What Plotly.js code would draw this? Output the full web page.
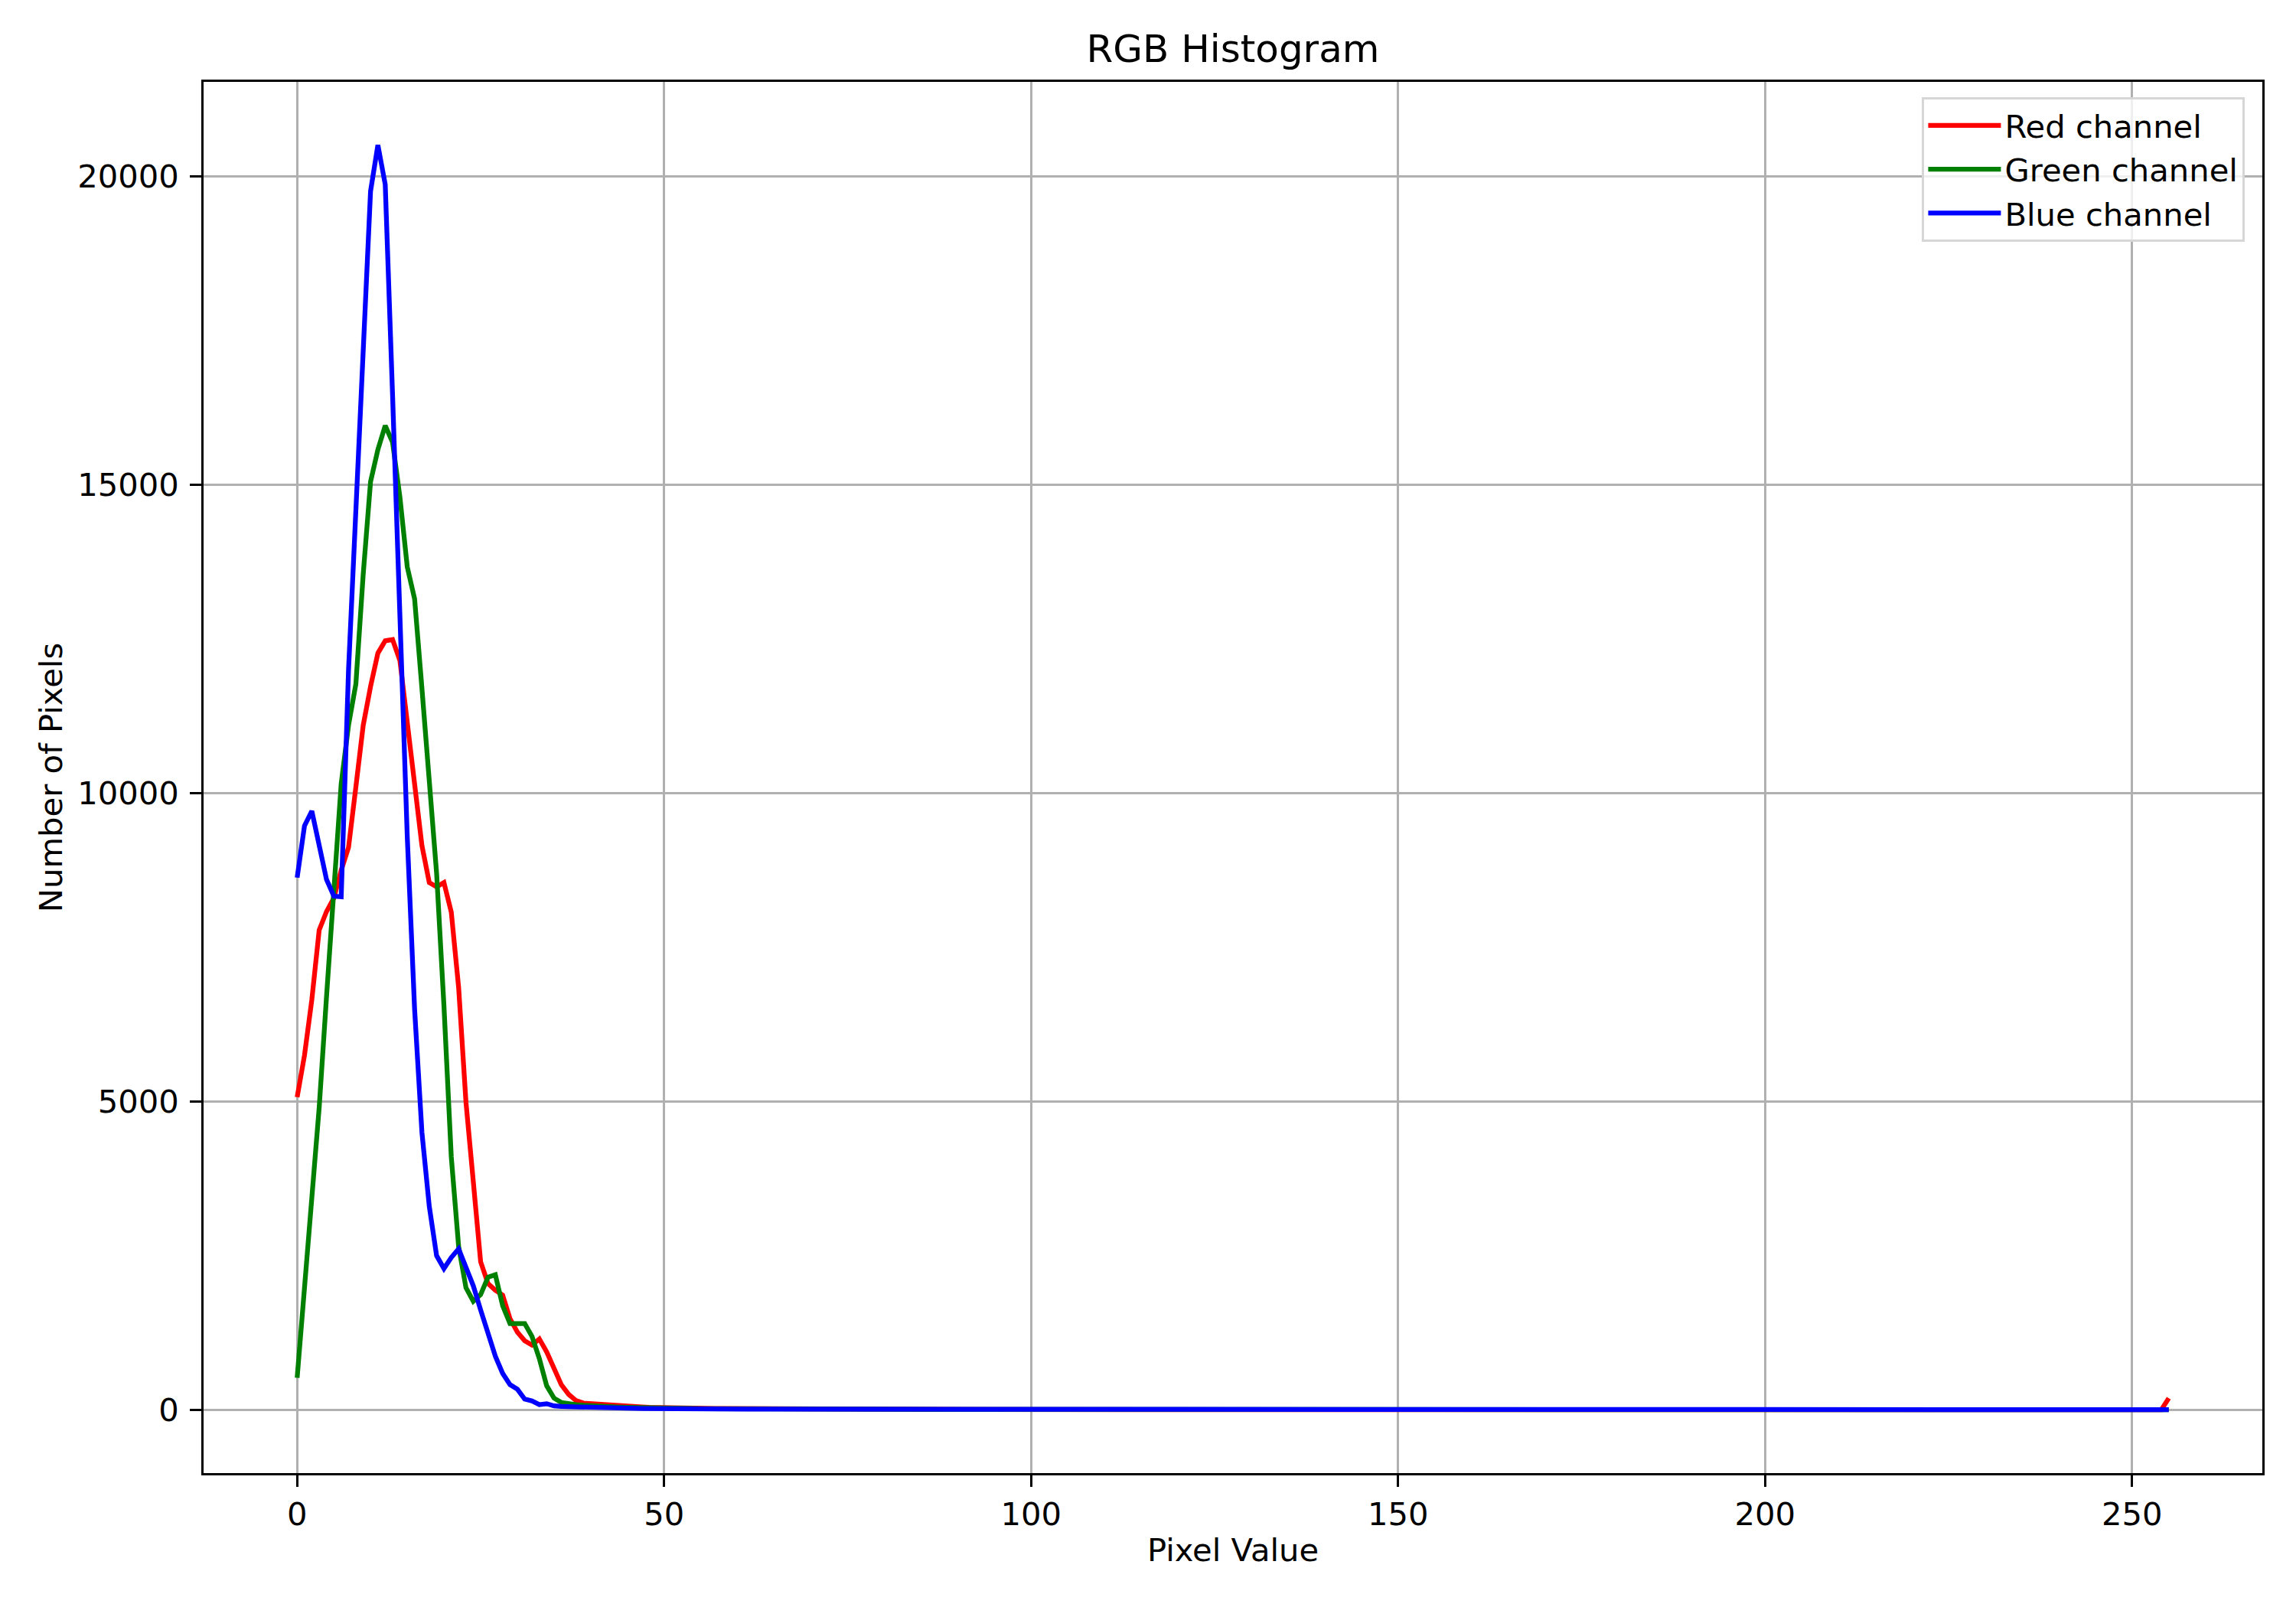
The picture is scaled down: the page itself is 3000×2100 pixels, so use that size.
<!DOCTYPE html>
<html>
<head>
<meta charset="utf-8">
<script src="https://cdn.plot.ly/plotly-3.0.1.min.js"></script>
<style>html,body{margin:0;padding:0;background:#fff;}#chart{width:3000px;height:2100px;}</style>
</head>
<body>
<div id="chart"></div>
<script>
// Pixel values 0..50
const redHead = [5070,5750,6650,7780,8080,8300,8750,9120,10100,11100,
  11730,12270,12470,12490,12150,11200,10150,9150,8550,8480,
  8550,8070,6850,4990,3700,2400,2050,1940,1860,1480,
  1260,1120,1050,1150,940,690,405,250,150,110,
  100,95,85,75,65,58,54,48,42,38,34];
const greenHead = [520,1950,3400,4900,6700,8550,10150,11100,11770,13550,
  15050,15570,15960,15690,14800,13670,13150,11700,10200,8700,
  6550,4100,2650,1980,1760,1870,2150,2190,1690,1400,
  1400,1400,1190,830,390,190,120,95,85,75,
  65,58,52,48,44,40,36,33,30,28,26];
const blueHead = [8630,9470,9710,9120,8600,8330,8320,12000,14700,17400,
  19760,20510,19870,16450,12700,9300,6500,4500,3300,2500,
  2290,2470,2610,2330,2010,1620,1230,870,590,410,
  335,175,145,85,100,65,55,50,45,40,
  38,35,33,30,28,26,24,22,20,19,18];
// Pixel values 51..100
const redMid = [32,30,29,27,26,24,23,22,21,21,20,19,18,18,17,16,16,15,15,14,
  14,14,13,13,12,12,11,11,11,10,10,10,9,9,9,8,8,8,8,7,7,7,7,6,6,6,6,6,5,5];
const greenMid = [24,23,22,21,20,19,18,17,17,16,15,15,14,14,13,13,12,12,11,11,
  11,10,10,10,9,9,9,8,8,8,8,7,7,7,7,6,6,6,6,6,5,5,5,5,5,5,4,4,4,4];
const blueMid = [17,17,16,16,15,15,14,14,13,13,13,12,12,12,11,11,11,10,10,10,
  10,9,9,9,9,8,8,8,8,8,7,7,7,7,7,6,6,6,6,6,6,5,5,5,5,5,5,4,4,4];
// Pixel values 101..255
const redTail = [5,5,5,5,4,4,4,4,4,4, 4,4,3,3,3,3,3,3,3,3, 3,3,3,2,2,2,2,2,2,2,
  2,2,2,2,2,2,2,2,2,2, 2,1,1,1,1,1,1,1,1,1, 1,1,1,1,1,1,1,1,1,1,
  1,1,1,1,1,1,1,1,1,1, 1,1,1,1,1,1,1,1,1,1, 1,1,1,1,1,1,1,1,1,1,
  1,1,1,1,1,1,1,1,1,1, 1,1,1,1,1,1,1,1,1,1, 1,1,1,1,1,1,1,1,1,1,
  1,1,1,1,1,1,1,1,1,1, 1,1,1,1,1,1,1,1,1,1, 1,1,1,1,1,1,1,1,1,1,
  1,1,1,2,190];
const greenTail = [4,4,4,4,3,3,3,3,3,3, 3,3,3,2,2,2,2,2,2,2, 2,2,2,2,2,2,2,2,1,1,
  1,1,1,1,1,1,1,1,1,1, 1,1,1,1,1,1,1,1,1,1, 1,1,1,1,1,1,1,1,1,1,
  1,1,1,1,1,1,1,1,1,1, 1,1,1,1,1,1,1,1,1,1, 1,1,1,1,1,1,1,1,1,1,
  1,1,1,1,1,1,1,1,1,1, 1,1,1,1,1,1,1,1,1,1, 1,1,1,1,1,1,1,1,1,1,
  1,1,1,1,1,1,1,1,1,1, 1,1,1,1,1,1,1,1,1,1, 1,1,1,1,1,1,1,1,1,1,
  1,1,1,1,3];
const blueTail = [4,4,4,4,4,3,3,3,3,3, 3,3,3,3,2,2,2,2,2,2, 2,2,2,2,2,2,2,2,2,1,
  1,1,1,1,1,1,1,1,1,1, 1,1,1,1,1,1,1,1,1,1, 1,1,1,1,1,1,1,1,1,1,
  1,1,1,1,1,1,1,1,1,1, 1,1,1,1,1,1,1,1,1,1, 1,1,1,1,1,1,1,1,1,1,
  1,1,1,1,1,1,1,1,1,1, 1,1,1,1,1,1,1,1,1,1, 1,1,1,1,1,1,1,1,1,1,
  1,1,1,1,1,1,1,1,1,1, 1,1,1,1,1,1,1,1,1,1, 1,1,1,1,1,1,1,1,1,1,
  1,1,1,1,2];
const seriesNames = ['Red channel','Green channel','Blue channel'];
const seriesColors = ['#ff0000','#008000','#0000ff'];
const xTicks = [0,50,100,150,200,250];
const yTicks = [0,5000,10000,15000,20000];

const redCounts = redHead.concat(redMid, redTail);
const greenCounts = greenHead.concat(greenMid, greenTail);
const blueCounts = blueHead.concat(blueMid, blueTail);
const pixelValues = redCounts.map((_, i) => i);

const FONT = 'DejaVu Sans, Liberation Sans, sans-serif';
const traces = [redCounts, greenCounts, blueCounts].map((ys, i) => ({
  type: 'scatter', mode: 'lines', x: pixelValues, y: ys, name: seriesNames[i],
  line: {color: seriesColors[i], width: 6.25}
}));

const axisCommon = {
  showline: true, linecolor: '#000', linewidth: 3.3, mirror: true,
  ticks: 'outside', ticklen: 14.6, tickwidth: 3.3, tickcolor: '#000',
  showgrid: true, gridcolor: '#b0b0b0', gridwidth: 3.3, zeroline: false,
  tickfont: {family: FONT, size: 41.7, color: '#000'}
};

const layout = {
  width: 3000, height: 2100,
  margin: {l: 266, r: 44, t: 107, b: 175},
  paper_bgcolor: '#fff', plot_bgcolor: '#fff',
  font: {family: FONT, color: '#000'},
  title: {text: 'RGB Histogram', font: {family: FONT, size: 50, color: '#000'},
    x: 0.5, xref: 'paper', xanchor: 'center', y: 1 - 63/2100, yref: 'container', yanchor: 'middle'},
  xaxis: Object.assign({}, axisCommon, {
    range: [-12.75, 267.75], tickmode: 'array', tickvals: xTicks, ticklabelstandoff: 0,
    title: {text: 'Pixel Value', font: {family: FONT, size: 41.7, color: '#000'}, standoff: 10}
  }),
  yaxis: Object.assign({}, axisCommon, {
    range: [-1025, 21533], tickmode: 'array', tickvals: yTicks, tickformat: 'd', ticklabelstandoff: 6,
    title: {text: 'Number of Pixels', font: {family: FONT, size: 41.7, color: '#000'}, standoff: 7}
  }),
  showlegend: true,
  legend: {x: 0.9915, y: 0.989, xanchor: 'right', yanchor: 'top',
    bgcolor: 'rgba(255,255,255,0.8)', bordercolor: '#d6d6d6', borderwidth: 3.3,
    font: {family: FONT, size: 41.7, color: '#000'}, itemwidth: 95, tracegroupgap: 0}
};

Plotly.newPlot('chart', traces, layout, {staticPlot: true, displayModeBar: false});
</script>
</body>
</html>
